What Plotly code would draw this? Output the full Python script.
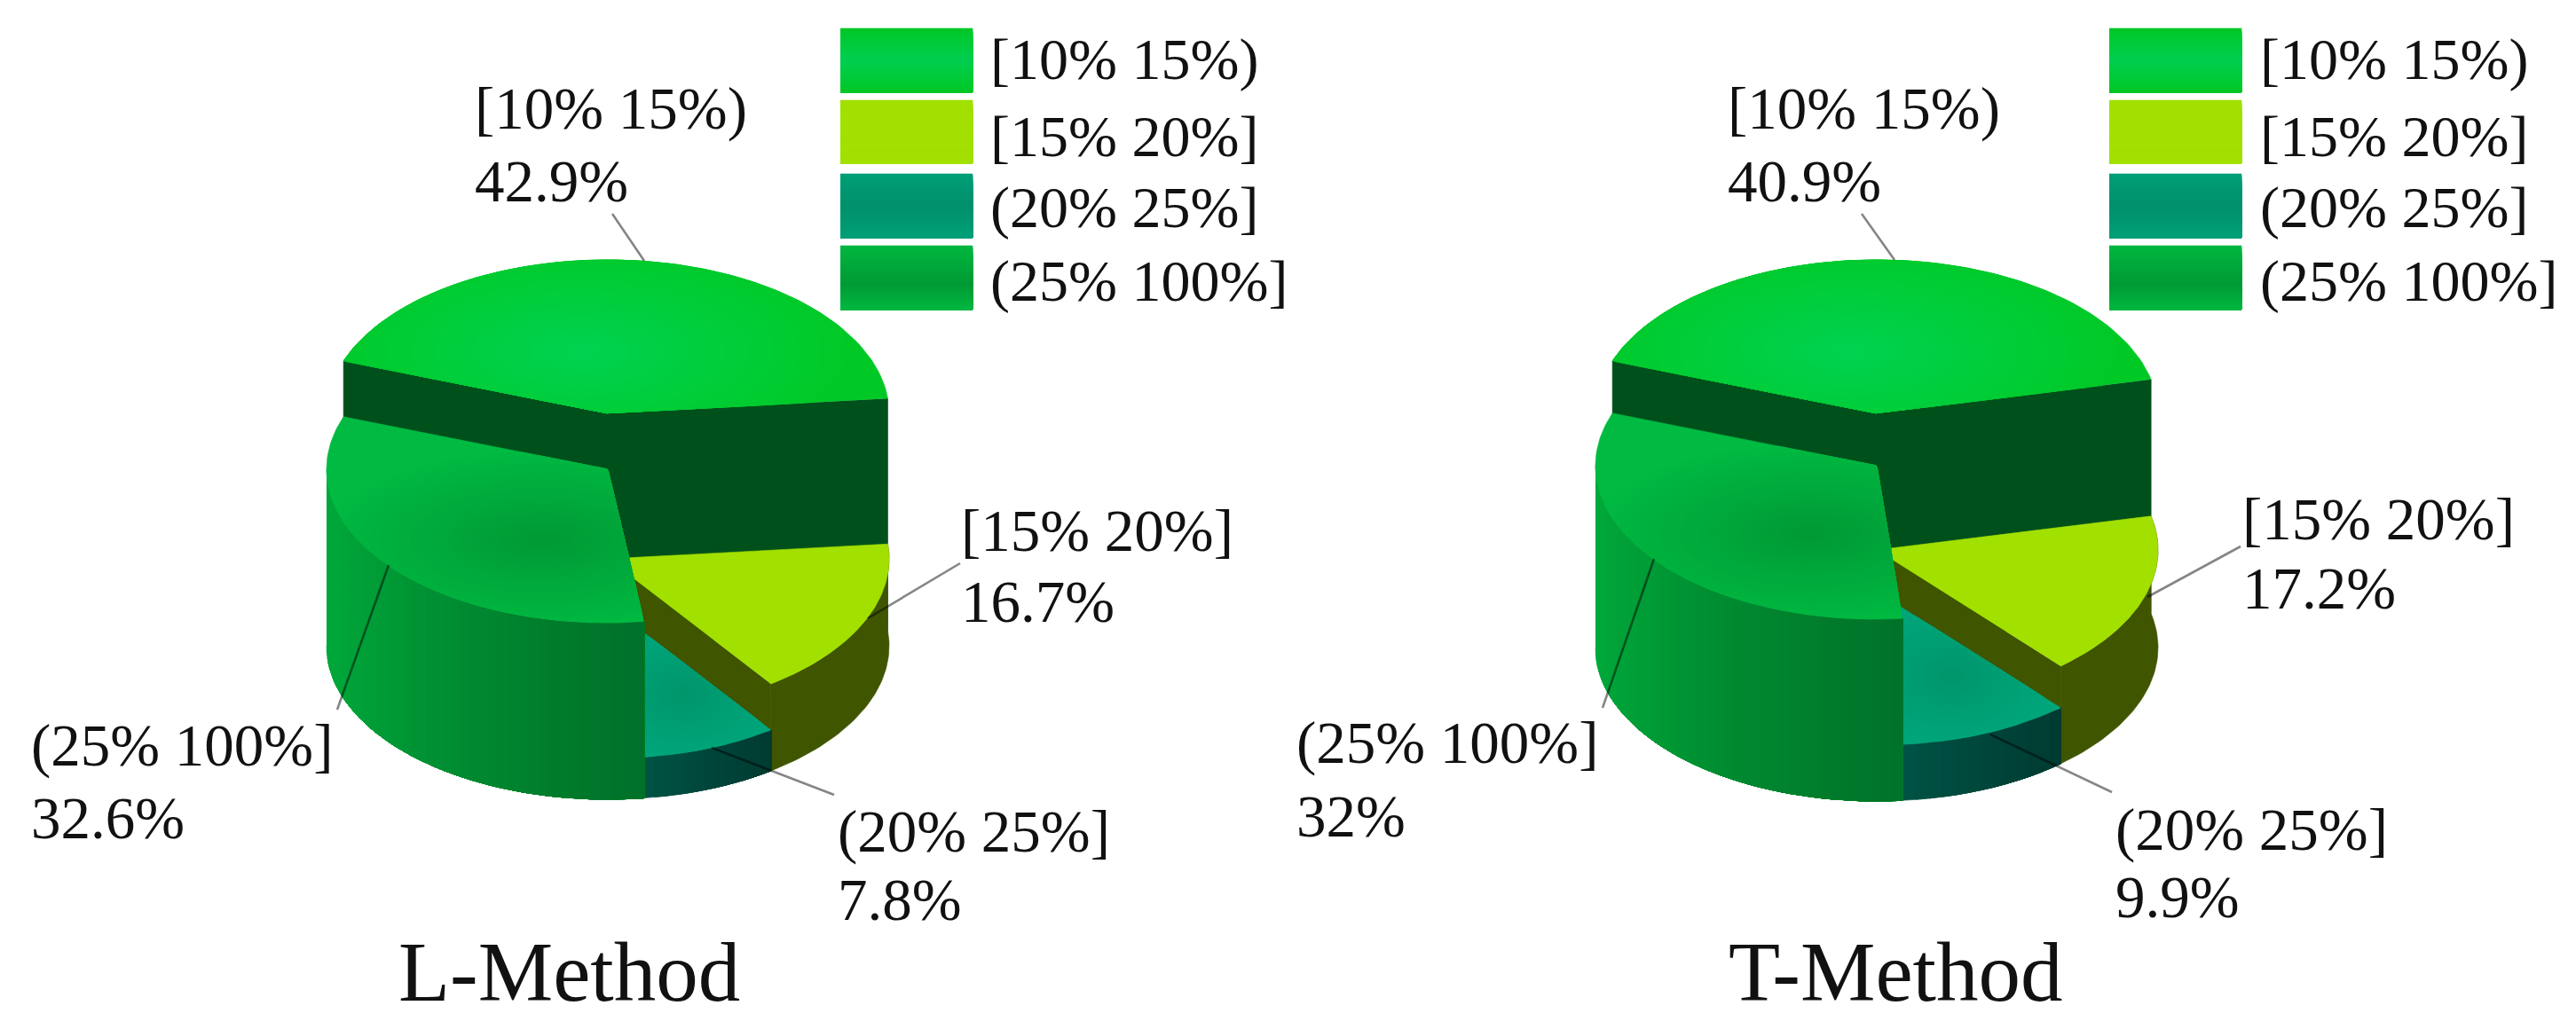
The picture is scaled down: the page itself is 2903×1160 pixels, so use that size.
import numpy as np
import plotly.graph_objects as go

# ---------- data ----------
categories = ["[10% 15%)", "[15% 20%]", "(20% 25%]", "(25% 100%]"]
l_share = [42.9, 16.7, 7.8, 32.6]
t_share = [40.9, 17.2, 9.9, 32.0]
l_label = ["42.9%", "16.7%", "7.8%", "32.6%"]
t_label = ["40.9%", "17.2%", "9.9%", "32%"]
# column height of every slice (pixels of the drawing)
l_height = [262, 98, 46, 199]
t_height = [264, 110, 63, 205]
titles = ["L-Method", "T-Method"]

W, H = 2903, 1160
RX, RY = 317, 173
START = 160
SERIF = "Liberation Serif"

TOP = ["#00C926", "#A2E000", "#00A57A", "#00BA42"]
TOP_MID = ["#00D250", "#A2E000", "#00966C", "#009A35"]
RADIAL_WALL = ["#00501C", "#3F5500", "#00503C", "#007A2B"]


def hex2rgb(c):
    return np.array([int(c[i:i + 2], 16) for i in (1, 3, 5)], float)


def mix(a, b, t):
    r = hex2rgb(a) * (1 - t) + hex2rgb(b) * t
    return "rgb(%d,%d,%d)" % tuple(np.round(r))


def ramp(stops, t):
    pos = np.linspace(0, 1, len(stops))
    i = min(int(np.searchsorted(pos, t, side="right")) - 1, len(stops) - 2)
    return mix(stops[i], stops[i + 1], (t - pos[i]) / (pos[i + 1] - pos[i]))


fig = go.Figure()


def poly(x, y, color):
    fig.add_trace(go.Scatter(
        x=list(x), y=list(y), mode="lines", fill="toself", fillcolor=color,
        line=dict(color=color, width=0.6), hoverinfo="skip", showlegend=False))


def line(x, y, color="rgba(0,0,0,0.48)", width=2.6):
    fig.add_trace(go.Scatter(
        x=x, y=y, mode="lines", line=dict(color=color, width=width),
        hoverinfo="skip", showlegend=False))


def label(x, y, text, size=67, color="#111111"):
    fig.add_annotation(x=x, y=y, text=text, showarrow=False, xanchor="left",
                       yanchor="middle", xref="x", yref="y",
                       font=dict(family=SERIF, size=size, color=color))


def shaded(px, py, gc, gr, edge, mid, layers=22):
    """Fill a convex polygon with an elliptic gradient round gc."""
    poly(px, py, edge)
    phi = np.linspace(0, 2 * np.pi, 361)
    dx, dy = np.cos(phi) * gr[0], np.sin(phi) * gr[1]
    ax, ay = np.array(px), np.array(py)
    bx, by = np.roll(ax, -1), np.roll(ay, -1)
    rp = np.full(phi.shape, np.inf)
    for k in range(len(phi)):
        sx, sy = bx - ax, by - ay
        den = dx[k] * sy - dy[k] * sx
        with np.errstate(divide="ignore", invalid="ignore"):
            s = ((ax - gc[0]) * sy - (ay - gc[1]) * sx) / den
            u = ((ax - gc[0]) * dy[k] - (ay - gc[1]) * dx[k]) / den
        ok = (s > 0) & (u >= -1e-9) & (u <= 1 + 1e-9)
        if ok.any():
            rp[k] = s[ok].min()
    for i in range(layers):
        t = 1 - i / layers
        r = np.minimum(rp, t)
        poly(gc[0] + r * dx, gc[1] + r * dy, mix(edge, mid, (i + 1) / layers))


def wall(pt, arc, cy, base, colour_of):
    """Outer wall painted strip by strip; each strip runs to the end, so no seams show."""
    for k in range(len(arc) - 1):
        xa, ya = pt(arc[k:], base)
        xb, yb = pt(arc[k:], cy)
        poly(np.r_[xb, xa[::-1]], np.r_[yb, ya[::-1]], colour_of(xa[0]))


def pie(cx, base, share, height, top_grad, leaders, lbl_pos, pcts, title_x):
    ang = [START]
    for s in share:
        ang.append(ang[-1] - s * 3.6)
    pt = lambda a, cy: (cx + RX * np.cos(np.radians(a)), cy + RY * np.sin(-np.radians(a)))

    for i in [0, 1, 2, 3]:
        a0, a1 = ang[i], ang[i + 1]
        cy = base - height[i]
        # walls that face the viewer
        if i == 0:
            for a in (a0, a1):
                x, y = pt(a, cy)
                poly([cx, x, x, cx], [cy, y, y + height[i], base], RADIAL_WALL[0])
        if i == 1:
            x, y = pt(a1, cy)
            poly([cx, x, x, cx], [cy, y, y + height[i], base], RADIAL_WALL[1])
            arc = np.linspace(a0, a1, 50)
            ax, ay = pt(arc, base)
            tx, ty = pt(arc, cy)
            poly(np.r_[tx, ax[::-1]], np.r_[ty, ay[::-1]], RADIAL_WALL[1])
        if i == 2:
            arc = np.linspace(a1, a0, 14)
            x0, x1 = pt(a1, 0)[0], pt(a0, 0)[0]
            wall(pt, arc, cy, base,
                 lambda x: ramp(["#005244", "#00453A", "#003A30"], min(max((x - x0) / (x1 - x0), 0), 1)))
        if i == 3:
            arc = np.linspace(-180, a0, 46)
            wall(pt, arc, cy, base,
                 lambda x: ramp(["#00A83A", "#009434", "#00862F", "#007A2B", "#00702A"],
                                min((x - (cx - RX)) / (RX * 1.13), 1)))
        # top face
        arc = np.linspace(a0, a1, 90)
        ax, ay = pt(arc, cy)
        px, py = np.r_[cx, ax], np.r_[cy, ay]
        if i == 3:
            px, py = np.r_[ax, cx], np.r_[ay, cy]
        if TOP[i] == TOP_MID[i]:
            poly(px, py, TOP[i])
        else:
            gc, gr = top_grad[i]
            shaded(px, py, gc, gr, TOP[i], TOP_MID[i])

    for x, y in leaders:
        line(x, y)
    for i, (x, y0, y1) in enumerate(lbl_pos):
        label(x, y0, categories[i])
        label(x, y1, pcts[i])
    fig.add_annotation(x=title_x[0], y=1096, text=title_x[1], showarrow=False, xanchor="left",
                       yanchor="middle", font=dict(family=SERIF, size=95, color="#111111"))


pie(685, 728, l_share, l_height,
    {0: ((654, 396), (300, 125)), 2: ((770, 782), (100, 70)), 3: ((610, 609), (250, 100))},
    [([690, 726], [241, 294]),
     ([978, 1082], [697, 635]),
     ([802, 940], [843, 896]),
     ([438, 380], [637, 800])],
    [(533, 122, 204), (1081, 598, 678), (942, 937, 1014), (33, 840, 922)],
    l_label, (447, titles[0]))

pie(2115, 730, t_share, t_height,
    {0: ((2084, 396), (300, 125)), 2: ((2200, 762), (110, 75)), 3: ((2040, 602), (250, 100))},
    [([2098, 2135], [241, 293]),
     ([2420, 2525], [673, 616]),
     ([2243, 2380], [828, 893]),
     ([1864, 1806], [630, 798])],
    [(1945, 122, 204), (2525, 585, 663), (2382, 935, 1011), (1459, 837, 920)],
    t_label, (1946, titles[1]))

# ---------- legends ----------
swatch = [
    ("#00C826", "#00CE50", 0.5),
    ("#A2E000", "#A2E000", 0.5),
    ("#00A078", "#00906C", 0.5),
    ("#00B840", "#009A35", 0.6),
]
rows = [(32, 104), (113, 184), (196, 268), (277, 349)]
legend_text_y = [67, 153, 234, 317]
for x0, tx in ((947, 1114), (2377, 2545)):
    for name, (y0, y1), (c0, c1, p), ty in zip(categories, rows, swatch, legend_text_y):
        n = 36
        ys = np.linspace(y0, y1, n + 1)
        for k in range(n):
            f = (k + 0.5) / n
            t = f / p if f < p else (1 - f) / (1 - p)
            poly([x0, x0 + 149, x0 + 149, x0], [ys[k], ys[k], y1, y1], mix(c0, c1, t))
        label(tx, ty, name, size=66)

fig.update_layout(
    width=W, height=H, margin=dict(l=0, r=0, t=0, b=0),
    paper_bgcolor="white", plot_bgcolor="white", showlegend=False,
    xaxis=dict(range=[0, W], visible=False, fixedrange=True),
    yaxis=dict(range=[H, 0], visible=False, fixedrange=True),
)
fig.write_html("out.html", config={"displayModeBar": False},
               post_script="document.body.style.margin='0';document.body.style.overflow='hidden';")
